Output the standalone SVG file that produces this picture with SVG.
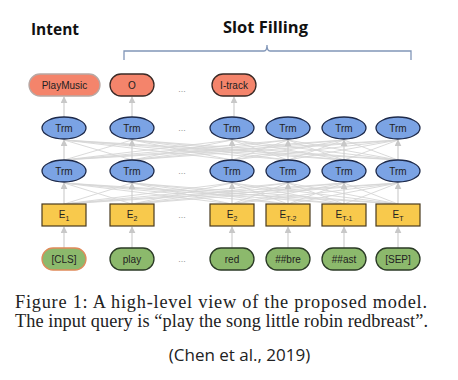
<svg xmlns="http://www.w3.org/2000/svg" width="458" height="380" viewBox="0 0 458 380">
<defs>
<marker id="ah" viewBox="0 0 10 10" refX="9" refY="5" markerWidth="7" markerHeight="7" orient="auto" markerUnits="userSpaceOnUse">
<path d="M0,0 L10,5 L0,10 z" fill="#c8c8c8"/>
</marker>
<style>
.out{fill:#f4846b;stroke:#3a2a26;stroke-width:1.3}
.trm{fill:#7ba3e4;stroke:#1e2a4a;stroke-width:1.3}
.emb{fill:#f8c94c;stroke:#4a3b1e;stroke-width:1.2}
.inp{fill:#8cb96c;stroke:#2b3a26;stroke-width:1.3}
.t{font-family:"Liberation Sans",Arial,sans-serif;font-size:10px;fill:#222;text-anchor:middle}
.dots{font-family:"Liberation Sans",Arial,sans-serif;font-size:9px;fill:#999;text-anchor:middle}
.mesh{stroke:#d6d6d6;stroke-width:0.9;fill:none}
.v{stroke:#cfcfcf;stroke-width:1.2;marker-end:url(#ah)}
.h{font-family:"Open Sans","Liberation Sans",sans-serif;font-weight:bold;font-size:16px;fill:#111}
</style>
</defs>
<rect width="458" height="380" fill="#fff"/>

<text class="h" x="31" y="35" textLength="48" lengthAdjust="spacingAndGlyphs">Intent</text>
<text class="h" x="223" y="33" textLength="85" lengthAdjust="spacingAndGlyphs">Slot Filling</text>
<path d="M124,60 L124,51 L264,51 Q267,51 267,45 Q267,51 270,51 L411,51 L411,60" fill="none" stroke="#8196b8" stroke-width="1.3"/>

<g id="connectors">
<path class="mesh" d="
M64,204L132,183 M64,204L232,183 M64,204L288,183 M64,204L344,183 M64,204L398,183
M132,204L64,183 M132,204L232,183 M132,204L288,183 M132,204L344,183 M132,204L398,183
M232,204L64,183 M232,204L132,183 M232,204L288,183 M232,204L344,183 M232,204L398,183
M288,204L64,183 M288,204L132,183 M288,204L232,183 M288,204L344,183 M288,204L398,183
M344,204L64,183 M344,204L132,183 M344,204L232,183 M344,204L288,183 M344,204L398,183
M398,204L64,183 M398,204L132,183 M398,204L232,183 M398,204L288,183 M398,204L344,183
M64,160L132,140 M64,160L232,140 M64,160L288,140 M64,160L344,140 M64,160L398,140
M132,160L64,140 M132,160L232,140 M132,160L288,140 M132,160L344,140 M132,160L398,140
M232,160L64,140 M232,160L132,140 M232,160L288,140 M232,160L344,140 M232,160L398,140
M288,160L64,140 M288,160L132,140 M288,160L232,140 M288,160L344,140 M288,160L398,140
M344,160L64,140 M344,160L132,140 M344,160L232,140 M344,160L288,140 M344,160L398,140
M398,160L64,140 M398,160L132,140 M398,160L232,140 M398,160L288,140 M398,160L344,140"/>
<line class="v" x1="64" y1="248" x2="64" y2="227"/>
<line class="v" x1="132" y1="248" x2="132" y2="227"/>
<line class="v" x1="232" y1="248" x2="232" y2="227"/>
<line class="v" x1="288" y1="248" x2="288" y2="227"/>
<line class="v" x1="344" y1="248" x2="344" y2="227"/>
<line class="v" x1="398" y1="248" x2="398" y2="227"/>
<line class="v" x1="64" y1="204" x2="64" y2="183"/>
<line class="v" x1="132" y1="204" x2="132" y2="183"/>
<line class="v" x1="232" y1="204" x2="232" y2="183"/>
<line class="v" x1="288" y1="204" x2="288" y2="183"/>
<line class="v" x1="344" y1="204" x2="344" y2="183"/>
<line class="v" x1="398" y1="204" x2="398" y2="183"/>
<line class="v" x1="64" y1="160" x2="64" y2="140"/>
<line class="v" x1="132" y1="160" x2="132" y2="140"/>
<line class="v" x1="232" y1="160" x2="232" y2="140"/>
<line class="v" x1="288" y1="160" x2="288" y2="140"/>
<line class="v" x1="344" y1="160" x2="344" y2="140"/>
<line class="v" x1="398" y1="160" x2="398" y2="140"/>
<line class="v" x1="64" y1="117" x2="64" y2="97"/>
<line class="v" x1="132" y1="117" x2="132" y2="97"/>
<line class="v" x1="234" y1="117" x2="234" y2="97"/>
</g>

<g id="out-playmusic"><rect class="out" x="29" y="74" width="71" height="22" rx="11" style="stroke:#b8a8a4"/><text class="t" x="64.5" y="88.5">PlayMusic</text></g>
<g id="out-o"><rect class="out" x="110" y="74" width="44" height="22" rx="11"/><text class="t" x="132" y="88.5">O</text></g>
<text class="dots" x="182" y="92">...</text>
<g id="out-itrack"><rect class="out" x="212" y="74" width="44" height="22" rx="11"/><text class="t" x="234" y="88.5">I-track</text></g>

<g id="trm1-1"><ellipse class="trm" cx="64" cy="128" rx="22" ry="11"/><text class="t" x="64" y="131.5">Trm</text></g>
<g id="trm1-2"><ellipse class="trm" cx="132" cy="128" rx="22" ry="11"/><text class="t" x="132" y="131.5">Trm</text></g>
<text class="dots" x="182" y="131">...</text>
<g id="trm1-3"><ellipse class="trm" cx="232" cy="128" rx="22" ry="11"/><text class="t" x="232" y="131.5">Trm</text></g>
<g id="trm1-4"><ellipse class="trm" cx="288" cy="128" rx="22" ry="11"/><text class="t" x="288" y="131.5">Trm</text></g>
<g id="trm1-5"><ellipse class="trm" cx="344" cy="128" rx="22" ry="11"/><text class="t" x="344" y="131.5">Trm</text></g>
<g id="trm1-6"><ellipse class="trm" cx="398" cy="128" rx="22" ry="11"/><text class="t" x="398" y="131.5">Trm</text></g>

<g id="trm2-1"><ellipse class="trm" cx="64" cy="171" rx="22" ry="11"/><text class="t" x="64" y="174.5">Trm</text></g>
<g id="trm2-2"><ellipse class="trm" cx="132" cy="171" rx="22" ry="11"/><text class="t" x="132" y="174.5">Trm</text></g>
<text class="dots" x="182" y="174">...</text>
<g id="trm2-3"><ellipse class="trm" cx="232" cy="171" rx="22" ry="11"/><text class="t" x="232" y="174.5">Trm</text></g>
<g id="trm2-4"><ellipse class="trm" cx="288" cy="171" rx="22" ry="11"/><text class="t" x="288" y="174.5">Trm</text></g>
<g id="trm2-5"><ellipse class="trm" cx="344" cy="171" rx="22" ry="11"/><text class="t" x="344" y="174.5">Trm</text></g>
<g id="trm2-6"><ellipse class="trm" cx="398" cy="171" rx="22" ry="11"/><text class="t" x="398" y="174.5">Trm</text></g>

<g id="e1"><rect class="emb" x="42" y="204" width="44" height="22"/><text class="t" x="64" y="218">E<tspan font-size="7" dy="3">1</tspan></text></g>
<g id="e2"><rect class="emb" x="110" y="204" width="44" height="22"/><text class="t" x="132" y="218">E<tspan font-size="7" dy="3">2</tspan></text></g>
<text class="dots" x="182" y="218">...</text>
<g id="e3"><rect class="emb" x="210" y="204" width="44" height="22"/><text class="t" x="232" y="218">E<tspan font-size="7" dy="3">2</tspan></text></g>
<g id="e4"><rect class="emb" x="266" y="204" width="44" height="22"/><text class="t" x="288" y="218">E<tspan font-size="7" dy="3">T-2</tspan></text></g>
<g id="e5"><rect class="emb" x="322" y="204" width="44" height="22"/><text class="t" x="344" y="218">E<tspan font-size="7" dy="3">T-1</tspan></text></g>
<g id="e6"><rect class="emb" x="376" y="204" width="44" height="22"/><text class="t" x="398" y="218">E<tspan font-size="7" dy="3">T</tspan></text></g>

<g id="in-cls"><rect class="inp" x="42" y="248" width="44" height="22" rx="11" style="stroke:#e08a5a"/><text class="t" x="64" y="262.5">[CLS]</text></g>
<g id="in-play"><rect class="inp" x="110" y="248" width="44" height="22" rx="11"/><text class="t" x="132" y="262.5">play</text></g>
<text class="dots" x="182" y="262">...</text>
<g id="in-red"><rect class="inp" x="210" y="248" width="44" height="22" rx="11"/><text class="t" x="232" y="262.5">red</text></g>
<g id="in-bre"><rect class="inp" x="266" y="248" width="44" height="22" rx="11"/><text class="t" x="288" y="262.5">##bre</text></g>
<g id="in-ast"><rect class="inp" x="322" y="248" width="44" height="22" rx="11"/><text class="t" x="344" y="262.5">##ast</text></g>
<g id="in-sep"><rect class="inp" x="376" y="248" width="44" height="22" rx="11"/><text class="t" x="398" y="262.5">[SEP]</text></g>

<text font-family="'Liberation Serif','Times New Roman',serif" font-size="18.3" fill="#222" x="15" y="308" textLength="412" lengthAdjust="spacing">Figure 1:  A high-level view of the proposed model.</text>
<text font-family="'Liberation Serif','Times New Roman',serif" font-size="18.3" fill="#222" x="15" y="327" textLength="413" lengthAdjust="spacing">The input query is “play the song little robin redbreast”.</text>
<text x="239.5" y="361" text-anchor="middle" font-family="'Open Sans','Liberation Sans',sans-serif" font-size="17" fill="#222">(Chen et al., 2019)</text>
</svg>
